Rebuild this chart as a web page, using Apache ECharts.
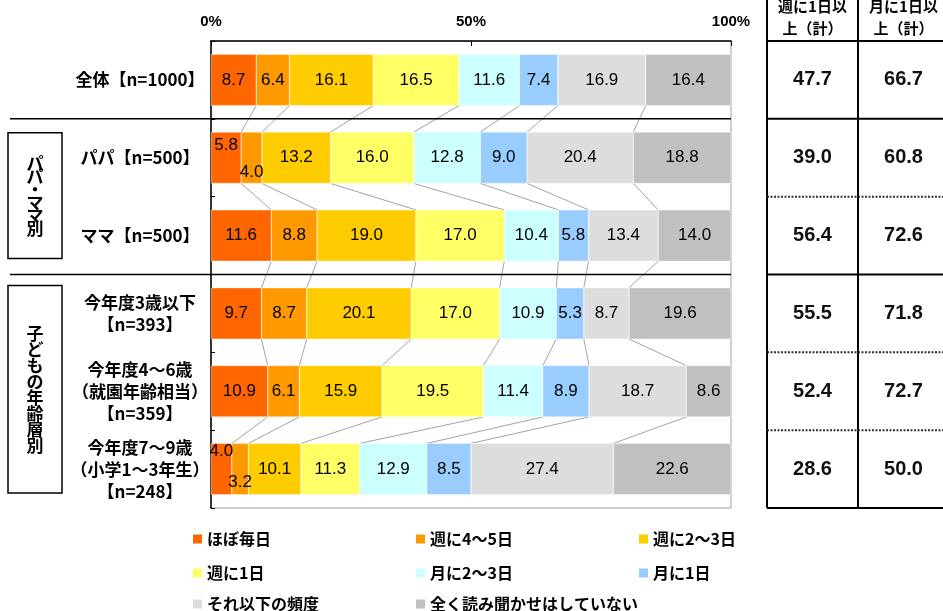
<!DOCTYPE html>
<html><head><meta charset="utf-8">
<script src="https://cdn.jsdelivr.net/npm/echarts@6/dist/echarts.min.js"></script>
<style>html,body{margin:0;padding:0;background:#fff}#c{width:943px;height:611px}</style>
</head><body><div id="c"></div>
<script>
// ---- data ----
const categories = ['全体【n=1000】','パパ【n=500】','ママ【n=500】','今年度3歳以下\n【n=393】','今年度4～6歳\n（就園年齢相当）\n【n=359】','今年度7～9歳\n（小学1～3年生）\n【n=248】'];
const seriesNames = ['ほぼ毎日','週に4～5日','週に2～3日','週に1日','月に2～3日','月に1日','それ以下の頻度','全く読み聞かせはしていない'];
const hoboMainichi = [8.7,5.8,11.6,9.7,10.9,4.0];
const shu4to5 = [6.4,4.0,8.8,8.7,6.1,3.2];
const shu2to3 = [16.1,13.2,19.0,20.1,15.9,10.1];
const shu1 = [16.5,16.0,17.0,17.0,19.5,11.3];
const tsuki2to3 = [11.6,12.8,10.4,10.9,11.4,12.9];
const tsuki1 = [7.4,9.0,5.8,5.3,8.9,8.5];
const soreIka = [16.9,20.4,13.4,8.7,18.7,27.4];
const mattakuNai = [16.4,18.8,14.0,19.6,8.6,22.6];
const xTickValues = [0,50,100];
const tableHeaders = ['週に1日以\n上（計）','月に1日以\n上（計）'];
const weeklyTotal = [47.7,39.0,56.4,55.5,52.4,28.6];
const monthlyTotal = [66.7,60.8,72.6,71.8,72.7,50.0];
const groupLabels = ['パパ・ママ別','子どもの年齢層別'];

// ---- styles ----
const colors = ['#FF6600','#FF9900','#FFCC00','#FFFF66','#CCFFFF','#99CCFF','#DDDDDD','#C0C0C0'];
const labelOffsets = {'0-1':[0,-12],'1-1':[0,15],'0-5':[0,-18],'1-5':[0,13]};
const rowBorderDashed = [false,false,true,false,true,true];
const groupRows = [[1,2],[3,5]];
const groupInsets = [[14,16],[11,15]];
const groupLineHeights = [13,16];
const legendCols = [193,416,639];
const legendRows = [531,565,596];
const CJK = '"Noto Sans CJK JP", sans-serif';
const LAT = '"Liberation Sans", Arial, sans-serif';

const values = [hoboMainichi,shu4to5,shu2to3,shu1,tsuki2to3,tsuki1,soreIka,mattakuNai];
const BAR_RATIO = 0.66;

const series = values.map((arr,si)=>({
  name: seriesNames[si], type:'bar', stack:'total', barWidth:(BAR_RATIO*100)+'%',
  xAxisIndex:0, yAxisIndex:0,
  itemStyle:{color:colors[si], borderColor:'#fff', borderWidth:0.4},
  label:{show:true, position:'inside', color:'#000', fontSize:17, fontFamily:LAT, overflow:'none',
    formatter:p=>Number(p.value).toFixed(1)},
  emphasis:{disabled:true},
  data: arr.map((v,ri)=>{const off=labelOffsets[si+'-'+ri]; return off?{value:v,label:{offset:off}}:v;})
}));

// connectors between consecutive rows
const connData = [];
for (let r=0;r<categories.length-1;r++){
  let a=0,b=0;
  for (let s=0;s<values.length-1;s++){ a+=values[s][r]; b+=values[s][r+1]; connData.push([a,r,b]); }
}
series.push({
  type:'custom', xAxisIndex:0, yAxisIndex:0, silent:true, data:connData, encode:{x:0,y:1}, z:1,
  renderItem:(params,api)=>{
    const r=api.value(1);
    const p1=api.coord([api.value(0),r]);
    const p2=api.coord([api.value(2),r+1]);
    const bh=api.size([0,1])[1]*BAR_RATIO/2;
    return {type:'line', shape:{x1:p1[0],y1:p1[1]+bh,x2:p2[0],y2:p2[1]-bh}, style:{stroke:'#8a8a8a',lineWidth:0.8}};
  }
});

// table
const tableData = [];
for (let r=0;r<categories.length;r++){ tableData.push([0,r,weeklyTotal[r]]); tableData.push([1,r,monthlyTotal[r]]); }
const lastRow = categories.length-1, lastCol = tableHeaders.length-1;
series.push({
  type:'custom', xAxisIndex:1, yAxisIndex:1, silent:true, clip:false, data:tableData, encode:{x:0,y:1},
  renderItem:(params,api)=>{
    const c=api.value(0), r=api.value(1), v=api.value(2);
    const ctr=api.coord([c,r]); const sz=api.size([1,1]);
    const w=sz[0], h=sz[1];
    const x0=ctr[0]-w/2, x1=ctr[0]+w/2, y0=ctr[1]-h/2, y1=ctr[1]+h/2;
    const solid={stroke:'#000',lineWidth:2};
    const dashed={stroke:'#333',lineWidth:2,lineDash:[2,1.5]};
    const ch=[];
    ch.push({type:'line',shape:{x1:x0,y1:y0,x2:x1,y2:y0},style:rowBorderDashed[r]?dashed:solid});
    ch.push({type:'line',shape:{x1:x0,y1:(r===0?y0-h:y0),x2:x0,y2:y1},style:solid});
    if(c===lastCol) ch.push({type:'line',shape:{x1:x1,y1:(r===0?y0-h:y0),x2:x1,y2:y1},style:solid});
    if(r===lastRow) ch.push({type:'line',shape:{x1:x0,y1:y1,x2:x1,y2:y1},style:solid});
    ch.push({type:'text',style:{text:v.toFixed(1),x:ctr[0],y:ctr[1],align:'center',verticalAlign:'middle',
      font:'bold 20px '+LAT,fill:'#111'}});
    return {type:'group',children:ch};
  }
});

const legendText = {color:'#000', fontSize:16, fontWeight:'bold', fontFamily:CJK};
const legends = seriesNames.map((n,i)=>({
  left:legendCols[i%3], top:legendRows[Math.floor(i/3)], orient:'horizontal', itemWidth:9, itemHeight:9,
  padding:0, icon:'rect', selectedMode:false, textStyle:legendText, itemStyle:{borderWidth:0}, data:[n]
}));

const option = {
  animation:false,
  textStyle:{fontFamily:CJK},
  grid:[
    {left:211, right:212, top:41, bottom:103, show:true, borderColor:'#a0a0a0', borderWidth:1, containLabel:false, outerBoundsMode:'none'},
    {left:767, width:182, top:41, bottom:103, containLabel:false, outerBoundsMode:'none'}
  ],
  xAxis:[
    {type:'value', gridIndex:0, min:xTickValues[0], max:xTickValues[xTickValues.length-1], interval:xTickValues[1]-xTickValues[0],
      position:'top', axisLine:{show:true,lineStyle:{color:'#000',width:1.5}},
      axisTick:{show:true,inside:true,length:5,lineStyle:{color:'#000'}},
      axisLabel:{formatter:'{value}%', fontWeight:'bold', fontSize:15, fontFamily:LAT, color:'#000', margin:12},
      splitLine:{show:false}},
    {type:'category', gridIndex:1, data:tableHeaders, position:'top',
      axisLine:{show:false}, axisTick:{show:false},
      axisLabel:{interval:0, fontWeight:'bold', fontSize:15, fontFamily:CJK, color:'#000', lineHeight:22, margin:2}}
  ],
  yAxis:[
    {type:'category', gridIndex:0, data:categories, inverse:true,
      axisLine:{show:true,lineStyle:{color:'#000',width:1.5}},
      axisTick:{show:true,inside:true,length:4,lineStyle:{color:'#000'}},
      axisLabel:{interval:0, align:'center', margin:71, fontSize:17, fontWeight:'bold', color:'#000', fontFamily:CJK, lineHeight:22}},
    {type:'category', gridIndex:1, data:categories, inverse:true, show:false}
  ],
  legend:legends,
  series
};

const chart = echarts.init(document.getElementById('c'), null, {renderer:'canvas'});
chart.setOption(option);

// decorations derived from the axis scale
const yc = i => chart.convertToPixel({yAxisIndex:0}, i);
const band = yc(1)-yc(0);
const xRight = chart.convertToPixel({xAxisIndex:0}, xTickValues[xTickValues.length-1]);
const graphics = [];
[0,2].forEach(i=>{
  const y = yc(i)+band/2;
  graphics.push({type:'line', shape:{x1:10,y1:y,x2:xRight,y2:y}, style:{stroke:'#000',lineWidth:1.5}, z:50});
});
groupRows.forEach((rg,gi)=>{
  const top = yc(rg[0])-band/2+groupInsets[gi][0];
  const bot = yc(rg[1])+band/2-groupInsets[gi][1];
  graphics.push({type:'rect', shape:{x:8,y:top,width:54,height:bot-top}, style:{fill:'#fff',stroke:'#000',lineWidth:1.5}, z:50});
  graphics.push({type:'text', x:35, y:(top+bot)/2, z:51,
    style:{text:groupLabels[gi].split('').join('\n'), align:'center', verticalAlign:'middle',
      font:'bold 17px '+CJK, lineHeight:groupLineHeights[gi], fill:'#000'}});
});
chart.setOption({graphic:graphics});
</script>
</body></html>
